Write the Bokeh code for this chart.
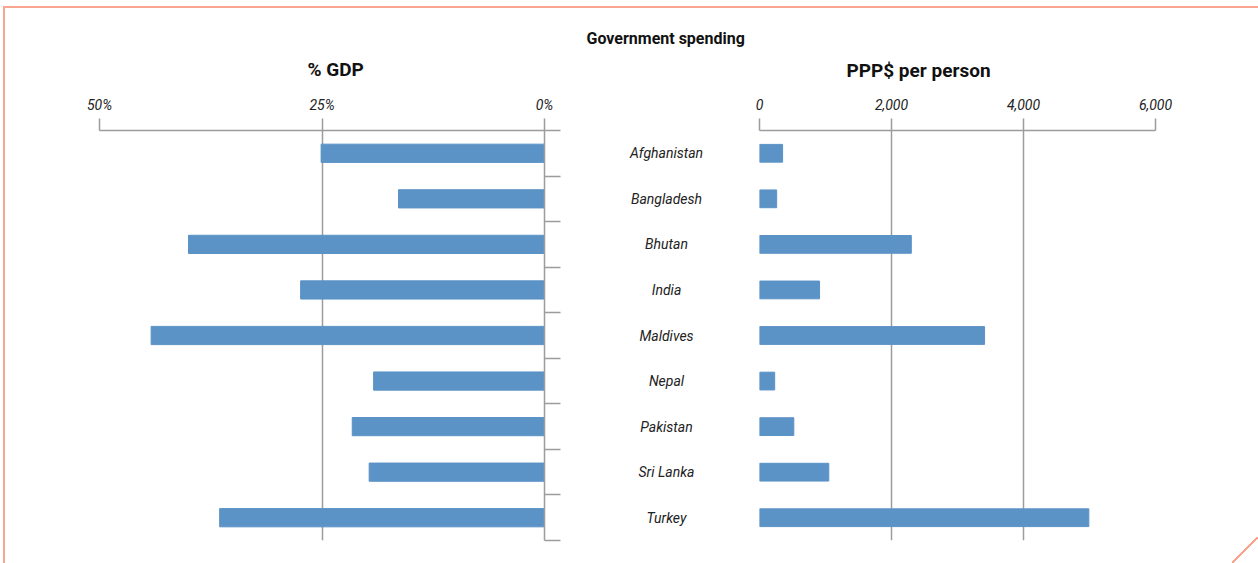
from bokeh.plotting import figure
from bokeh.models import (Range1d, FactorRange, LinearAxis, FixedTicker,
                          PrintfTickFormatter, NumeralTickFormatter, Grid, Title)
from bokeh.core.properties import value
from bokeh.layouts import row
from bokeh.embed import file_html
from bokeh.resources import INLINE

countries = ["Afghanistan", "Bangladesh", "Bhutan", "India", "Maldives",
             "Nepal", "Pakistan", "Sri Lanka", "Turkey"]
gdp_pct = [25.1, 16.4, 40.0, 27.4, 44.2, 19.2, 21.6, 19.7, 36.5]
ppp_per_person = [350, 260, 2300, 910, 3410, 230, 520, 1050, 4990]
gdp_ticks = [50, 25, 0]
ppp_ticks = [0, 2000, 4000, 6000]
boundaries = list(range(len(countries) + 1))

BAR = "#5b93c6"
AX = "#9c9c9c"
FRAME = "#f9a58f"
FONT = "Roboto"
factors = list(reversed(countries))
H = 555
TOP = 122
BOTTOM = 23


def clean(fig):
    fig.outline_line_color = None
    for g in fig.grid:
        g.visible = False


def style_top_axis(ax, standoff):
    ax.major_tick_out = 12
    ax.major_tick_in = 0
    ax.minor_tick_line_color = None
    ax.axis_line_color = AX
    ax.axis_line_width = 1.5
    ax.major_tick_line_color = AX
    ax.major_tick_line_width = 1.5
    ax.major_label_text_font = FONT
    ax.major_label_text_font_style = "italic"
    ax.major_label_text_font_size = "14px"
    ax.major_label_text_color = "#222222"
    ax.major_label_standoff = standoff


# ---------- left panel: % GDP ----------
pl = figure(width=575, height=H, output_backend="svg", toolbar_location=None,
            x_range=Range1d(50, 0), y_range=FactorRange(factors=factors, range_padding=0),
            x_axis_location=None, y_axis_location=None,
            min_border_left=94, min_border_right=36, min_border_top=TOP, min_border_bottom=BOTTOM)
clean(pl)
pl.add_layout(Grid(dimension=0, ticker=FixedTicker(ticks=gdp_ticks), grid_line_color=AX,
                   grid_line_width=1.5))
pl.hbar(y=countries, left=0, right=gdp_pct, height=0.4, color=BAR)

axl = LinearAxis(ticker=FixedTicker(ticks=gdp_ticks), formatter=PrintfTickFormatter(format="%d%%"))
style_top_axis(axl, 6)
pl.add_layout(axl, "above")

axr = LinearAxis(ticker=FixedTicker(ticks=boundaries))
axr.major_tick_out = 16
axr.major_tick_in = 0
axr.minor_tick_line_color = None
axr.axis_line_color = AX
axr.axis_line_width = 1.5
axr.major_tick_line_color = AX
axr.major_tick_line_width = 1.5
axr.major_label_text_font_size = "0px"
axr.major_label_text_color = None
pl.add_layout(axr, "right")

pl.add_layout(Title(text="% GDP", align="left", offset=208, standoff=26,
                    text_font=FONT, text_font_size="19px", text_font_style="bold",
                    text_color="#111111"), "above")

# ---------- middle: category labels + main title ----------
pm = figure(width=172, height=H, output_backend="svg", toolbar_location=None,
            x_range=Range1d(0, 1), y_range=FactorRange(factors=factors, range_padding=0),
            x_axis_location=None, y_axis_location=None,
            min_border_left=0, min_border_right=0, min_border_top=TOP, min_border_bottom=BOTTOM)
clean(pm)
pm.text(x=0.5, y=countries, text=countries, text_align="center", text_baseline="middle",
        text_font=value(FONT), text_font_style="italic", text_font_size="14px",
        text_color="#222222")
pm.add_layout(Title(text=" ", standoff=62, text_font=FONT, text_font_size="16px"), "above")
pm.add_layout(Title(text="Government spending", align="left", offset=6, standoff=0,
                    text_font=FONT, text_font_size="16px", text_font_style="bold",
                    text_color="#111111"), "above")

# ---------- right panel: PPP$ per person ----------
pr = figure(width=506, height=H, output_backend="svg", toolbar_location=None,
            x_range=Range1d(0, 6000), y_range=FactorRange(factors=factors, range_padding=0),
            x_axis_location=None, y_axis_location=None,
            min_border_left=7, min_border_right=103, min_border_top=TOP, min_border_bottom=BOTTOM)
clean(pr)
pr.border_fill_color = None
pr.add_layout(Grid(dimension=0, ticker=FixedTicker(ticks=ppp_ticks), grid_line_color=AX,
                   grid_line_width=1.5))
pr.hbar(y=countries, left=0, right=ppp_per_person, height=0.39, color=BAR)

axt = LinearAxis(ticker=FixedTicker(ticks=ppp_ticks), formatter=NumeralTickFormatter(format="0,0"))
style_top_axis(axt, 9)
pr.add_layout(axt, "above")
pr.add_layout(Title(text="PPP$ per person", align="left", offset=87, standoff=28,
                    text_font=FONT, text_font_size="19px", text_font_style="bold",
                    text_color="#111111"), "above")

corner = ("linear-gradient(to bottom right, transparent calc(50% - 1px), " + FRAME +
          " calc(50% - 1px), " + FRAME + " calc(50% + 1px), transparent calc(50% + 1px))")
layout = row(pl, pm, pr, styles={"margin-top": "6px", "margin-left": "3px",
                                 "border-top": "2px solid " + FRAME,
                                 "border-left": "2px solid " + FRAME,
                                 "background-color": "white",
                                 "background-image": corner,
                                 "background-size": "26px 26px",
                                 "background-position": "right bottom",
                                 "background-repeat": "no-repeat"})

open("out.html", "w").write(file_html(layout, INLINE))
